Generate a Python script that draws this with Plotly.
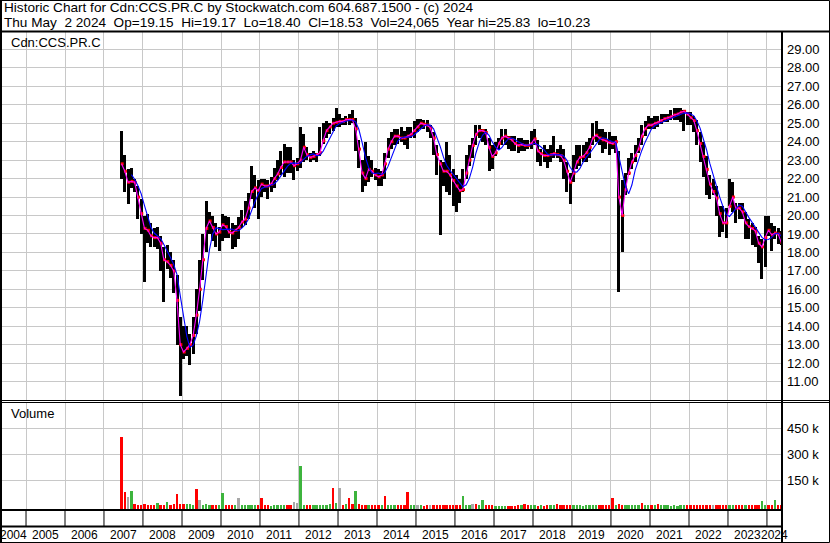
import pandas as pd
import plotly.graph_objects as go

# ---------------- data (monthly) ----------------
months = pd.date_range("2007-06-01", "2024-05-01", freq="MS")

high = [
    # 2007 Jun-Dec
    24.6, 23.3, 22.5, 22.6, 22.0, 21.6, 20.9,
    # 2008
    20.0, 20.1, 19.6, 19.3, 19.4, 18.9, 18.3, 18.4, 18.0, 17.6, 16.8, 14.5,
    # 2009
    14.0, 14.0, 13.6, 14.5, 16.0, 17.6, 19.0, 20.8, 20.2, 20.0, 19.6, 19.4,
    # 2010
    20.1, 20.0, 19.9, 19.6, 19.5, 19.9, 20.3, 20.8, 21.2, 22.7, 22.2, 21.9,
    # 2011
    22.0, 22.0, 21.9, 22.1, 22.6, 23.0, 23.5, 23.9, 23.7, 23.7, 23.0, 23.1,
    # 2012
    24.8, 24.4, 23.7, 23.4, 23.5, 23.4, 24.8, 25.0, 25.1, 25.0, 25.3, 25.8,
    # 2013
    25.5, 25.3, 25.4, 25.5, 25.7, 25.3, 24.1, 23.0, 24.0, 23.2, 23.0, 22.6,
    # 2014
    22.5, 22.4, 23.4, 24.2, 24.5, 24.7, 24.7, 24.8, 24.6, 24.8, 24.8, 25.1,
    # 2015
    25.25, 25.25, 25.15, 25.2, 24.9, 24.5, 23.8, 23.0, 22.9, 24.0, 23.3, 22.5,
    # 2016
    22.2, 22.0, 22.5, 23.3, 23.8, 24.2, 24.9, 24.9, 24.7, 24.7, 24.2, 23.8,
    # 2017
    24.0, 24.2, 24.7, 24.7, 24.3, 24.3, 24.3, 24.2, 24.2, 24.1, 24.1, 24.6,
    # 2018
    24.7, 24.1, 23.6, 23.8, 23.6, 23.8, 24.3, 23.6, 23.8, 23.6, 22.9, 22.3,
    # 2019
    23.3, 23.8, 23.8, 23.8, 24.0, 24.2, 25.0, 25.1, 24.7, 24.7, 24.5, 24.5,
    # 2020
    24.3, 24.3, 23.5, 21.9, 22.3, 23.1, 23.4, 23.8, 24.2, 24.9, 25.1, 25.4,
    # 2021
    25.3, 25.4, 25.4, 25.5, 25.5, 25.5, 25.7, 25.8, 25.83, 25.8, 25.7, 25.6,
    # 2022
    25.6, 25.4, 25.2, 24.5, 24.0, 23.2, 22.2, 22.0, 21.6, 20.5, 20.5, 20.4,
    # 2023
    22.0, 21.8, 20.7, 20.7, 20.7, 20.2, 19.8, 19.6, 19.4, 18.9, 18.7, 20.0,
    # 2024 Jan-May
    20.0, 19.6, 19.45, 19.3, 19.17,
]

low = [
    22.0, 21.3, 20.6, 21.5, 21.3, 19.8, 19.0,
    16.4, 18.5, 18.3, 18.3, 18.2, 17.0, 15.3, 17.1, 16.6, 15.8, 13.0, 10.23,
    12.2, 12.4, 11.9, 12.5, 13.6, 14.8, 16.5, 18.0, 19.0, 18.6, 18.3, 18.1,
    18.6, 18.8, 18.8, 18.2, 18.3, 18.7, 19.3, 19.5, 19.8, 20.9, 20.4, 19.8,
    21.0, 21.3, 20.9, 21.3, 21.5, 21.9, 22.2, 22.1, 22.3, 22.3, 21.9, 22.4,
    22.6, 22.9, 23.0, 22.9, 23.0, 22.9, 23.2, 23.9, 24.2, 24.4, 24.6, 24.8,
    24.8, 24.9, 24.9, 24.9, 25.0, 23.5, 22.6, 21.3, 21.6, 21.8, 22.1, 21.9,
    21.6, 21.6, 22.0, 23.1, 23.6, 23.8, 23.9, 24.0, 23.8, 23.6, 24.2, 24.2,
    24.5, 24.7, 24.7, 24.5, 24.2, 23.3, 22.2, 18.95, 21.6, 21.3, 21.1, 20.5,
    20.2, 20.7, 21.3, 22.0, 22.7, 23.1, 23.8, 24.2, 24.0, 23.8, 22.4, 22.5,
    23.2, 23.6, 23.8, 23.8, 23.6, 23.5, 23.5, 23.4, 23.5, 23.5, 23.6, 23.6,
    23.8, 22.9, 22.7, 22.9, 22.6, 22.9, 23.1, 23.1, 22.9, 22.0, 21.3, 20.6,
    21.8, 22.5, 22.7, 22.9, 22.9, 23.1, 23.8, 24.0, 23.8, 23.4, 23.6, 23.3,
    23.6, 23.4, 15.85, 18.0, 21.1, 22.2, 22.5, 22.9, 23.4, 23.8, 24.3, 24.7,
    24.7, 24.7, 24.8, 24.95, 25.05, 25.05, 25.15, 25.2, 25.2, 25.05, 24.6, 24.9,
    24.9, 24.5, 23.8, 22.9, 22.1, 21.1, 20.9, 21.1, 20.0, 18.85, 19.1, 18.8,
    20.5, 20.2, 19.6, 19.8, 19.8, 18.7, 18.7, 18.4, 18.3, 17.45, 16.55, 17.2,
    18.9, 18.1, 18.7, 18.45, 18.40,
]

close = [
    22.8, 22.4, 21.8, 21.85, 21.8, 21.0, 20.1,
    19.3, 19.2, 18.9, 18.8, 18.8, 18.5, 17.6, 17.5, 17.3, 17.0, 15.4, 13.0,
    12.6, 12.8, 13.0, 13.5, 14.6, 16.0, 17.6, 19.3, 19.7, 19.35, 19.0, 19.1,
    19.5, 19.4, 19.1, 19.05, 19.2, 19.35, 19.65, 19.8, 20.4, 21.3, 21.5, 21.35,
    21.7, 21.6, 21.6, 21.7, 22.0, 22.25, 22.6, 22.9, 22.9, 22.9, 22.7, 22.8,
    23.0, 23.7, 23.3, 23.15, 23.2, 23.3, 23.4, 24.05, 24.6, 24.8, 25.0, 25.05,
    25.1, 25.1, 25.2, 25.2, 25.2, 24.7, 23.6, 22.3, 22.0, 22.5, 22.4, 22.2,
    22.1, 22.2, 22.8, 23.6, 24.0, 24.3, 24.3, 24.2, 24.2, 24.3, 24.4, 24.6,
    24.8, 25.0, 24.95, 24.9, 24.75, 24.2, 23.3, 22.8, 22.4, 22.4, 22.2, 21.9,
    21.6, 21.35, 21.4, 22.3, 23.0, 23.8, 24.4, 24.6, 24.6, 24.5, 23.7, 23.2,
    23.4, 23.9, 24.2, 24.3, 24.2, 24.1, 23.9, 23.8, 23.85, 23.8, 23.8, 23.9,
    24.15, 23.5, 23.35, 23.25, 23.25, 23.3, 23.35, 23.3, 23.25, 23.0, 22.4, 21.8,
    22.3, 22.9, 23.15, 23.2, 23.4, 23.7, 24.2, 24.35, 24.2, 24.1, 24.05, 23.95,
    23.9, 24.0, 21.0, 20.0, 21.4, 22.3, 22.9, 23.25, 23.6, 24.3, 24.7, 24.9,
    24.9, 25.0, 25.05, 25.15, 25.25, 25.3, 25.35, 25.45, 25.5, 25.6, 25.65, 25.5,
    25.3, 25.15, 24.6, 23.9, 23.2, 22.5, 21.7, 21.3, 20.95, 20.1, 19.6, 19.6,
    20.5, 21.0, 20.4, 20.4, 20.2, 19.6, 19.4, 19.3, 19.15, 18.5, 18.3, 18.8,
    19.2, 18.95, 19.05, 19.0, 18.53,
]

volume_k = [
    402, 88, 56, 94, 17, 12, 10,
    15, 10, 12, 10, 21, 10, 12, 27, 12, 15, 73, 15,
    17, 14, 17, 12, 100, 42, 12, 14, 10, 12, 10, 9,
    77, 12, 10, 12, 9, 48, 10, 9, 10, 12, 9, 10,
    48, 8, 9, 7, 8, 8, 9, 10, 8, 9, 27, 20,
    235, 12, 10, 8, 10, 12, 10, 10, 12, 15, 111, 20,
    111, 12, 17, 48, 15, 94, 14, 12, 12, 10, 12, 10,
    10, 12, 65, 10, 9, 10, 8, 9, 10, 83, 10, 9,
    12, 8, 7, 8, 10, 8, 9, 12, 9, 8, 9, 8,
    9, 10, 65, 9, 8, 14, 17, 10, 42, 10, 9, 8,
    6, 5, 6, 5, 7, 6, 7, 8, 9, 17, 12, 10,
    8, 7, 12, 7, 8, 8, 9, 17, 10, 12, 10, 9,
    9, 8, 8, 7, 9, 10, 9, 10, 8, 9, 8, 10,
    48, 10, 17, 12, 10, 9, 10, 8, 10, 23, 12, 10,
    10, 9, 17, 8, 9, 8, 7, 8, 7, 8, 9, 8,
    8, 9, 10, 9, 11, 10, 8, 9, 10, 9, 9, 12,
    10, 9, 10, 8, 9, 12, 9, 10, 9, 11, 31, 12,
    12, 10, 37, 13, 10,
]

# day direction of the tallest bar where it is clear in the picture (r=down, g=up, n=unchanged)
volume_direction = {
    "2007-06": "r", "2007-07": "r", "2007-08": "n", "2007-09": "g", "2008-05": "g",
    "2008-08": "g", "2008-11": "r", "2009-05": "r", "2009-06": "n", "2010-01": "g",
    "2010-06": "n", "2011-01": "r", "2011-11": "n", "2011-12": "n", "2012-01": "g",
    "2012-11": "r", "2013-01": "n", "2013-04": "r", "2013-06": "g", "2014-03": "r",
    "2014-10": "r", "2015-01": "n", "2015-05": "n", "2016-03": "g", "2016-06": "n",
    "2016-07": "r", "2016-09": "g", "2017-10": "r", "2018-03": "g", "2018-08": "r",
    "2019-08": "g", "2020-01": "r", "2020-03": "r", "2020-10": "r", "2021-03": "r",
    "2022-05": "r", "2022-08": "n", "2022-12": "r", "2023-06": "g", "2023-11": "g",
    "2024-01": "r", "2024-03": "g", "2024-04": "r",
}

price_ticks = list(range(11, 30))
volume_ticks = [150000, 300000, 450000]
volume_tick_text = ["150 k", "300 k", "450 k"]
years = list(range(2004, 2025))

header_1 = "Historic Chart for Cdn:CCS.PR.C by Stockwatch.com 604.687.1500 - (c) 2024"
header_2 = "Thu May  2 2024  Op=19.15  Hi=19.17  Lo=18.40  Cl=18.53  Vol=24,065  Year hi=25.83  lo=10.23"
symbol = "Cdn:CCS.PR.C"

# ---------------- layout helpers (pixel -> paper) ----------------
W, H = 830, 543
ML, MR, MT, MB = 2, 48, 31, 33
PW, PH = W - ML - MR, H - MT - MB


def px(x):
    return (x - ML) / PW


def py(y):
    return (H - MB - y) / PH


FONT = "Liberation Sans, Arial, sans-serif"
GRID = "#c8c8c8"
VOL_MIN, VOL_MAX = -21300, 598800

df = pd.DataFrame({"high": high, "low": low, "close": close,
                   "vol": [v * 1000 for v in volume_k]}, index=months)
mid = months + pd.Timedelta(days=14)
tick_x = months + pd.Timedelta(days=20)
ma_long = df["close"].rolling(4).mean()

vol_colors = []
cmap = {"r": "#ff0000", "g": "#3db43d", "n": "#a8a8a8"}
for i, m in enumerate(months):
    key = m.strftime("%Y-%m")
    if key in volume_direction:
        c = volume_direction[key]
    else:
        c = "g" if i > 0 and close[i] > close[i - 1] else "r"
    vol_colors.append(cmap[c])

DAY = 86400000
fig = go.Figure()
fig.add_trace(go.Bar(x=mid, y=df["high"] - df["low"], base=df["low"], width=28 * DAY,
                     marker=dict(color="black", line=dict(width=0)), xaxis="x", yaxis="y",
                     hoverinfo="skip"))
fig.add_trace(go.Scatter(x=tick_x, y=df["close"], mode="markers",
                         marker=dict(symbol="square", size=3, color="#ff0000", line=dict(width=0)),
                         xaxis="x", yaxis="y", hoverinfo="skip"))
fig.add_trace(go.Scatter(x=mid, y=df["close"], mode="lines", line=dict(color="#ff00ff", width=1.1),
                         xaxis="x", yaxis="y", hoverinfo="skip"))
fig.add_trace(go.Scatter(x=mid, y=ma_long, mode="lines", line=dict(color="#0000ff", width=1.1),
                         xaxis="x", yaxis="y", hoverinfo="skip"))
fig.add_trace(go.Bar(x=mid, y=df["vol"] - VOL_MIN, base=VOL_MIN, width=22 * DAY,
                     marker=dict(color=vol_colors, line=dict(width=0)), xaxis="x2", yaxis="y2",
                     hoverinfo="skip"))

xcommon = dict(type="date", range=["2004-05-21", "2024-05-21"], domain=[0, 1],
               showticklabels=False, ticks="", showgrid=True, gridcolor=GRID, gridwidth=1,
               tick0="2005-01-01", dtick="M12", zeroline=False, showline=False)

fig.update_layout(
    width=W, height=H, margin=dict(l=ML, r=MR, t=MT, b=MB),
    paper_bgcolor="white", plot_bgcolor="white", showlegend=False,
    barmode="overlay", bargap=0,
    font=dict(family=FONT, color="black"),
    xaxis=dict(xcommon, anchor="y"),
    xaxis2=dict(xcommon, anchor="y2", matches="x"),
    yaxis=dict(domain=[py(400), 1], range=[10, 30], side="right", anchor="x",
               tickvals=price_ticks, ticktext=[f"{v:.2f}" for v in price_ticks],
               showgrid=True, gridcolor=GRID, gridwidth=1, ticks="", zeroline=False,
               showline=False, tickfont=dict(size=13, color="black", family=FONT),
               ticklabelstandoff=4),
    yaxis2=dict(domain=[0, py(402.5)], range=[VOL_MIN, VOL_MAX], side="right", anchor="x2",
                tickvals=volume_ticks, ticktext=volume_tick_text,
                showgrid=True, gridcolor=GRID, gridwidth=1, ticks="", zeroline=False,
                showline=False, tickfont=dict(size=13, color="black", family=FONT),
                ticklabelstandoff=4),
)


def hline(y, x0, x1, w):
    return dict(type="line", xref="paper", yref="paper", x0=px(x0), x1=px(x1),
                y0=py(y), y1=py(y), line=dict(color="black", width=w))


def vline(x, y0, y1, w):
    return dict(type="line", xref="paper", yref="paper", x0=px(x), x1=px(x),
                y0=py(y0), y1=py(y1), line=dict(color="black", width=w))


shapes = [
    dict(type="rect", xref="paper", yref="paper", x0=px(0.5), x1=px(829.5),
         y0=py(0.5), y1=py(542.5), line=dict(color="black", width=1)),
    vline(1, 0, 543, 2),
    hline(31.5, 0, 830, 2),
    hline(400.5, 0, 830, 1),
    hline(402.5, 0, 830, 1),
    hline(510, 0, 782, 2),
    hline(526.5, 0, 782, 2),
    vline(782, 31, 543, 2),
]
for yv in years[1:]:
    shapes.append(dict(type="line", xref="x", yref="paper", x0=f"{yv}-01-01", x1=f"{yv}-01-01",
                       y0=py(510), y1=py(526), line=dict(color="black", width=1)))

nb = lambda s: s.replace("  ", " \u00a0")
annotations = [
    dict(text=header_1, xref="paper", yref="paper", x=px(2), y=py(8), xanchor="left",
         yanchor="middle", showarrow=False, font=dict(size=13.6, family=FONT, color="black")),
    dict(text=nb(header_2), xref="paper", yref="paper", x=px(2), y=py(22.5), xanchor="left",
         yanchor="middle", showarrow=False, font=dict(size=13.6, family=FONT, color="black")),
    dict(text=symbol, xref="paper", yref="paper", x=px(9), y=py(42.5), xanchor="left",
         yanchor="middle", showarrow=False, font=dict(size=13, family=FONT, color="black")),
    dict(text="Volume", xref="paper", yref="paper", x=px(9), y=py(413.5), xanchor="left",
         yanchor="middle", showarrow=False, font=dict(size=13, family=FONT, color="black")),
]
for yv in years:
    if yv == 2004:
        xpos = "2004-09-10"
    elif yv == 2024:
        xpos = "2024-03-11"
    else:
        xpos = f"{yv}-07-02"
    annotations.append(dict(text=str(yv), xref="x", yref="paper", x=xpos, y=py(534.7),
                            xanchor="center", yanchor="middle", showarrow=False,
                            font=dict(size=12, family=FONT, color="black")))

fig.update_layout(shapes=shapes, annotations=annotations)
fig.write_html("out.html", config={"displayModeBar": False},
               post_script="document.body.style.margin='0';document.body.style.overflow='hidden';")
